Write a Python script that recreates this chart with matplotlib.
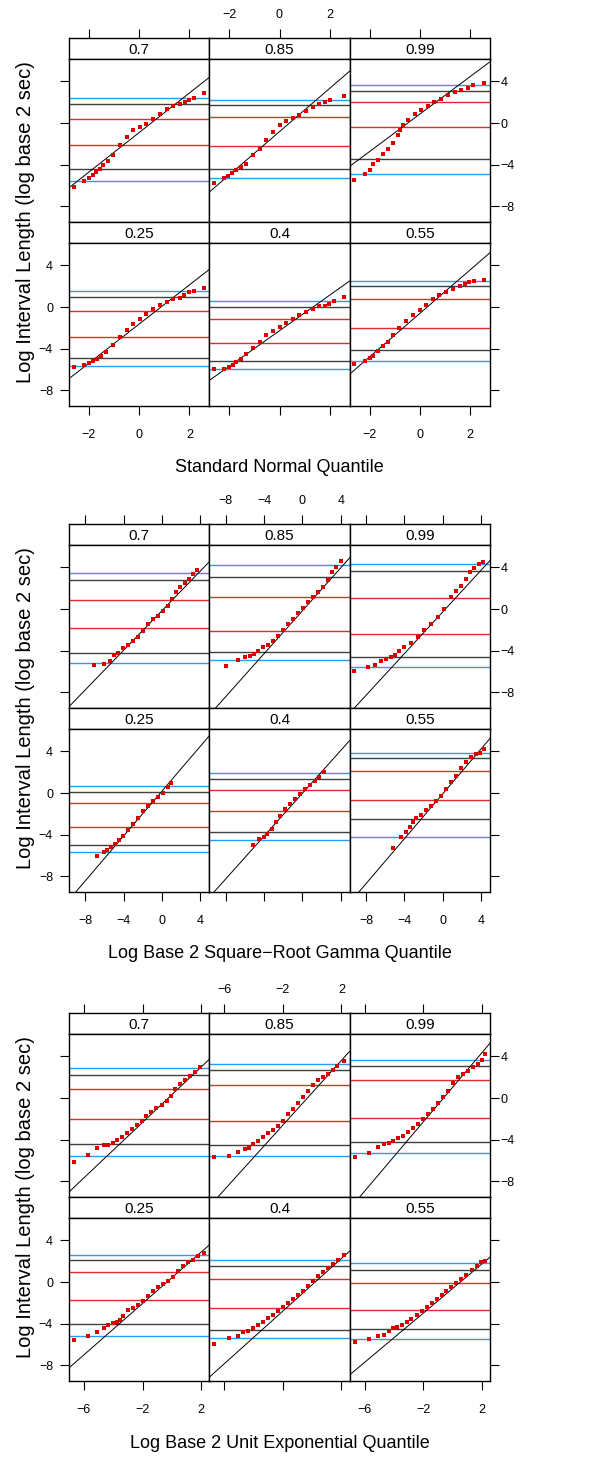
import matplotlib
matplotlib.use("Agg")
import matplotlib.pyplot as plt

plt.rcParams['font.family'] = ['Liberation Sans', 'DejaVu Sans']

# panel labels, top row first (lattice draws bottom row 0.25..0.55)
panel_names = ['0.7', '0.85', '0.99', '0.25', '0.4', '0.55']

x_titles = ['Standard Normal Quantile',
            'Log Base 2 Square\u2212Root Gamma Quantile',
            'Log Base 2 Unit Exponential Quantile']
y_title = 'Log Interval Length (log base 2 sec)'
y_ticks = [-8, -4, 0, 4]
norm_ticks = [-2, 0, 2]
gamma_ticks = [-8, -4, 0, 4]
expo_ticks = [-6, -2, 2]

# ---------------- standard normal quantile plot ----------------
norm_x_70 = [-2.60, -2.19, -1.99, -1.85, -1.70, -1.56, -1.43, -1.23, -1.03, -0.77, -0.50, -0.24,
             0.03, 0.29, 0.56, 0.82, 1.09, 1.35, 1.62, 1.81, 1.97, 2.17, 2.57]
norm_y_70 = [-6.11, -5.54, -5.25, -4.99, -4.74, -4.38, -4.06, -3.65, -3.04, -2.14, -1.34, -0.70,
             -0.38, -0.06, 0.35, 0.90, 1.34, 1.60, 1.86, 2.02, 2.18, 2.43, 2.91]
norm_h_70 = [2.37, 1.82, 0.42, -2.14, -4.45, -5.54]
norm_q_70 = [-0.91, 1.90]

norm_x_85 = [-2.61, -2.19, -2.05, -1.88, -1.72, -1.52, -1.32, -1.06, -0.79, -0.53, -0.26, 0.00,
             0.26, 0.53, 0.79, 1.06, 1.32, 1.59, 1.79, 1.99, 2.56]
norm_y_85 = [-5.73, -5.25, -5.06, -4.77, -4.54, -4.22, -3.90, -3.10, -2.46, -1.66, -0.86, -0.22,
             0.19, 0.51, 0.80, 1.12, 1.54, 1.82, 2.02, 2.18, 2.62]
norm_h_85 = [2.21, 1.76, 0.58, -2.24, -4.45, -5.25]
norm_q_85 = [-0.82, 2.08]

norm_x_99 = [-2.60, -2.20, -2.00, -1.87, -1.67, -1.47, -1.27, -1.07, -0.87, -0.77, -0.65, -0.48,
             -0.21, 0.05, 0.32, 0.58, 0.85, 1.11, 1.38, 1.64, 1.91, 2.13, 2.57]
norm_y_99 = [-5.44, -4.86, -4.48, -3.90, -3.52, -2.94, -2.46, -1.92, -1.18, -0.70, -0.16, 0.26,
             0.83, 1.22, 1.60, 2.02, 2.34, 2.66, 2.98, 3.20, 3.36, 3.62, 3.87]
norm_h_99 = [3.65, 3.10, 2.05, -0.42, -3.46, -4.86]
norm_q_99 = [0.86, 1.80]

norm_x_25 = [-2.60, -2.19, -1.99, -1.83, -1.67, -1.50, -1.30, -1.03, -0.77, -0.50, -0.24, 0.03,
             0.29, 0.56, 0.82, 1.09, 1.35, 1.62, 1.77, 1.97, 2.17, 2.57]
norm_y_25 = [-5.73, -5.57, -5.34, -5.15, -4.99, -4.67, -4.32, -3.68, -2.88, -2.24, -1.60, -1.12,
             -0.64, -0.16, 0.16, 0.48, 0.74, 0.90, 1.12, 1.41, 1.57, 1.86]
norm_h_25 = [1.57, 0.96, -0.35, -2.88, -4.93, -5.63]
norm_q_25 = [-1.63, 1.88]

norm_x_40 = [-2.61, -2.19, -2.01, -1.85, -1.72, -1.52, -1.32, -1.06, -0.79, -0.53, -0.26, 0.00,
             0.26, 0.53, 0.79, 1.06, 1.32, 1.59, 1.79, 1.96, 2.16, 2.56]
norm_y_40 = [-5.92, -5.92, -5.79, -5.60, -5.25, -4.96, -4.54, -3.94, -3.36, -2.72, -2.34, -1.92,
             -1.54, -1.18, -0.80, -0.48, -0.16, 0.06, 0.13, 0.29, 0.61, 0.99]
norm_h_40 = [0.61, 0.00, -1.15, -3.46, -5.22, -5.92]
norm_q_40 = [-2.27, 1.71]

norm_x_55 = [-2.60, -2.20, -2.00, -1.87, -1.67, -1.47, -1.27, -1.07, -0.81, -0.54, -0.28, -0.01,
             0.25, 0.52, 0.78, 1.05, 1.31, 1.58, 1.80, 1.97, 2.17, 2.57]
norm_y_55 = [-5.44, -5.15, -4.90, -4.67, -4.22, -3.78, -3.36, -2.72, -2.02, -1.38, -0.80, -0.32,
             0.16, 0.80, 1.18, 1.44, 1.76, 2.02, 2.24, 2.40, 2.53, 2.62]
norm_h_55 = [2.53, 2.02, 0.77, -2.05, -4.13, -5.22]
norm_q_55 = [-0.61, 2.09]

# ---------------- square-root gamma quantile plot ----------------
gam_x_70 = [-7.13, -6.09, -5.46, -5.01, -4.59, -4.07, -3.55, -3.03, -2.50, -1.98, -1.46, -0.94,
            -0.42, 0.10, 0.63, 1.08, 1.50, 1.91, 2.37, 2.82, 3.23, 3.69]
gam_y_70 = [-5.41, -5.25, -4.96, -4.45, -4.26, -3.74, -3.42, -3.04, -2.66, -2.08, -1.44, -0.96,
            -0.64, -0.16, 0.32, 0.96, 1.60, 2.08, 2.50, 2.88, 3.36, 3.78]
gam_h_70 = [3.42, 2.82, 0.86, -1.82, -4.22, -5.22]
gam_q_70 = [-0.14, 0.95]

gam_x_85 = [-7.93, -6.75, -6.02, -5.50, -5.08, -4.63, -4.10, -3.58, -3.06, -2.54, -2.02, -1.50,
            -0.97, -0.45, 0.07, 0.59, 1.11, 1.63, 2.16, 2.68, 3.13, 3.55, 4.03]
gam_y_85 = [-5.50, -4.86, -4.64, -4.48, -4.29, -4.06, -3.68, -3.42, -3.04, -2.56, -2.02, -1.44,
            -0.96, -0.42, 0.10, 0.64, 1.12, 1.60, 2.08, 2.78, 3.58, 4.06, 4.64]
gam_h_85 = [4.22, 3.10, 1.18, -2.11, -4.13, -4.90]
gam_q_85 = [-0.16, 1.03]

gam_x_99 = [-9.22, -7.83, -7.03, -6.43, -5.91, -5.39, -4.94, -4.52, -4.00, -3.30, -2.61, -1.91,
            -1.22, -0.52, 0.17, 0.87, 1.39, 1.91, 2.43, 2.85, 3.30, 3.83, 4.24]
gam_y_99 = [-5.92, -5.54, -5.34, -4.96, -4.80, -4.64, -4.42, -4.06, -3.68, -3.30, -2.72, -2.02,
            -1.44, -0.80, 0.00, 1.12, 1.76, 2.24, 2.88, 3.52, 3.94, 4.32, 4.54]
gam_h_99 = [4.32, 3.62, 1.09, -2.40, -4.64, -5.60]
gam_q_99 = [-0.27, 1.00]

gam_x_25 = [-6.78, -6.09, -5.74, -5.36, -4.94, -4.52, -4.07, -3.55, -3.03, -2.50, -1.98, -1.46,
            -0.94, -0.42, 0.10, 0.63, 0.97]
gam_y_25 = [-6.02, -5.63, -5.47, -5.22, -4.90, -4.48, -4.10, -3.55, -2.98, -2.43, -1.70, -1.22,
            -0.74, -0.35, -0.03, 0.54, 0.93]
gam_h_25 = [0.64, 0.13, -0.96, -3.26, -4.96, -5.63]
gam_q_25 = [0.20, 1.076]

gam_x_40 = [-5.15, -4.52, -4.03, -3.65, -3.23, -2.78, -2.37, -1.84, -1.32, -0.80, -0.28, 0.24,
            0.77, 1.29, 1.74, 2.23]
gam_y_40 = [-4.96, -4.45, -4.26, -3.94, -3.46, -2.82, -2.18, -1.54, -1.06, -0.58, -0.10, 0.38,
            0.80, 1.18, 1.57, 2.05]
gam_h_40 = [1.89, 1.34, 0.29, -1.73, -3.71, -4.48]
gam_q_40 = [-0.02, 1.027]

gam_x_55 = [-5.22, -4.35, -3.83, -3.41, -3.13, -2.78, -2.26, -1.74, -1.22, -0.70, -0.17, 0.35,
            0.87, 1.39, 1.91, 2.43, 2.96, 3.48, 3.90, 4.35]
gam_y_55 = [-5.31, -4.26, -3.71, -3.23, -2.75, -2.40, -2.08, -1.63, -1.22, -0.74, -0.26, 0.38,
            1.02, 1.66, 2.37, 2.94, 3.42, 3.74, 3.81, 4.22]
gam_h_55 = [3.84, 3.36, 2.08, -0.67, -2.50, -4.26]
gam_q_55 = [-0.07, 1.077]

# ---------------- unit exponential quantile plot ----------------
exp_x_70 = [-6.68, -5.70, -5.09, -4.64, -4.34, -4.05, -3.77, -3.43, -3.09, -2.75, -2.41, -2.07,
            -1.73, -1.39, -1.05, -0.70, -0.36, -0.09, 0.20, 0.55, 0.89, 1.23, 1.57, 1.91]
exp_y_70 = [-6.11, -5.50, -4.83, -4.54, -4.48, -4.29, -4.00, -3.71, -3.39, -2.98, -2.59, -2.18,
            -1.70, -1.38, -0.99, -0.64, -0.26, 0.22, 0.86, 1.34, 1.73, 2.14, 2.46, 2.94]
exp_h_70 = [2.91, 2.24, 0.86, -2.05, -4.38, -5.57]
exp_q_70 = [0.32, 1.33]

exp_x_85 = [-6.69, -5.67, -5.08, -4.60, -4.31, -4.03, -3.69, -3.35, -3.01, -2.67, -2.33, -1.99,
            -1.65, -1.31, -0.97, -0.63, -0.28, 0.06, 0.40, 0.74, 1.08, 1.42, 1.69, 2.15]
exp_y_85 = [-5.70, -5.60, -5.15, -4.90, -4.83, -4.42, -4.10, -3.71, -3.39, -3.07, -2.66, -2.18,
            -1.54, -1.06, -0.51, 0.06, 0.70, 1.28, 1.73, 1.98, 2.30, 2.69, 3.10, 3.58]
exp_h_85 = [3.30, 2.69, 1.25, -2.24, -4.54, -5.60]
exp_q_85 = [0.51, 1.555]

exp_x_99 = [-6.66, -5.68, -5.11, -4.66, -4.32, -4.05, -3.70, -3.36, -3.02, -2.68, -2.34, -2.00,
            -1.66, -1.32, -0.98, -0.64, -0.30, 0.05, 0.39, 0.73, 1.07, 1.41, 1.75, 1.98, 2.20]
exp_y_99 = [-5.63, -5.25, -4.74, -4.38, -4.32, -4.10, -3.87, -3.62, -3.23, -2.88, -2.50, -2.02,
            -1.54, -1.06, -0.51, 0.13, 0.70, 1.41, 1.98, 2.30, 2.62, 2.94, 3.26, 3.65, 4.22]
exp_h_99 = [3.68, 3.04, 1.73, -1.92, -4.19, -5.28]
exp_q_99 = [1.02, 1.66]

exp_x_25 = [-6.68, -5.70, -5.09, -4.64, -4.34, -4.05, -3.77, -3.55, -3.32, -2.98, -2.64, -2.30,
            -1.95, -1.61, -1.27, -0.93, -0.59, -0.25, 0.09, 0.43, 0.77, 1.11, 1.45, 1.80, 2.18]
exp_y_25 = [-5.60, -5.15, -4.83, -4.45, -4.16, -3.97, -3.84, -3.62, -3.30, -2.72, -2.50, -2.24,
            -1.86, -1.38, -0.90, -0.51, -0.19, 0.13, 0.45, 1.02, 1.50, 1.92, 2.14, 2.46, 2.78]
exp_h_25 = [2.59, 2.11, 0.96, -1.76, -4.03, -5.15]
exp_q_25 = [0.41, 1.233]

exp_x_40 = [-6.69, -5.67, -5.08, -4.72, -4.38, -4.03, -3.69, -3.35, -3.01, -2.67, -2.33, -1.99,
            -1.65, -1.31, -0.97, -0.63, -0.28, 0.06, 0.40, 0.74, 1.08, 1.42, 1.76, 2.17]
exp_y_40 = [-5.92, -5.41, -5.15, -4.83, -4.74, -4.42, -4.16, -3.84, -3.46, -3.14, -2.82, -2.43,
            -2.02, -1.63, -1.28, -0.90, -0.42, 0.06, 0.54, 0.96, 1.34, 1.73, 2.14, 2.62]
exp_h_40 = [2.11, 1.54, 0.26, -2.53, -4.58, -5.41]
exp_q_40 = [-0.26, 1.264]

exp_x_55 = [-6.66, -5.68, -5.11, -4.66, -4.32, -4.05, -3.77, -3.48, -3.14, -2.80, -2.45, -2.11,
            -1.77, -1.43, -1.09, -0.75, -0.41, -0.07, 0.27, 0.61, 0.95, 1.30, 1.64, 1.93, 2.20]
exp_y_55 = [-5.79, -5.47, -5.22, -5.06, -4.74, -4.42, -4.32, -4.10, -3.84, -3.52, -3.20, -2.82,
            -2.43, -2.02, -1.60, -1.22, -0.83, -0.51, -0.10, 0.32, 0.70, 1.18, 1.50, 1.89, 1.98]
exp_h_55 = [1.82, 1.15, -0.10, -2.72, -4.51, -5.47]
exp_q_55 = [-0.63, 1.18]

norm_data = [(norm_x_70, norm_y_70, norm_h_70, norm_q_70), (norm_x_85, norm_y_85, norm_h_85, norm_q_85),
             (norm_x_99, norm_y_99, norm_h_99, norm_q_99), (norm_x_25, norm_y_25, norm_h_25, norm_q_25),
             (norm_x_40, norm_y_40, norm_h_40, norm_q_40), (norm_x_55, norm_y_55, norm_h_55, norm_q_55)]
gam_data = [(gam_x_70, gam_y_70, gam_h_70, gam_q_70), (gam_x_85, gam_y_85, gam_h_85, gam_q_85),
            (gam_x_99, gam_y_99, gam_h_99, gam_q_99), (gam_x_25, gam_y_25, gam_h_25, gam_q_25),
            (gam_x_40, gam_y_40, gam_h_40, gam_q_40), (gam_x_55, gam_y_55, gam_h_55, gam_q_55)]
exp_data = [(exp_x_70, exp_y_70, exp_h_70, exp_q_70), (exp_x_85, exp_y_85, exp_h_85, exp_q_85),
            (exp_x_99, exp_y_99, exp_h_99, exp_q_99), (exp_x_25, exp_y_25, exp_h_25, exp_q_25),
            (exp_x_40, exp_y_40, exp_h_40, exp_q_40), (exp_x_55, exp_y_55, exp_h_55, exp_q_55)]

# colours of the six reference lines, top to bottom
hline_cols = ['#2b9cf2', '#404040', '#e32b2b', '#e32b2b', '#404040', '#2b9cf2']

W, H = 608, 1458
fig = plt.figure(figsize=(W / 100, H / 100), dpi=100)


def box(x0, y0, w, h):
    # pixel box (from top-left) -> figure fraction
    return [x0 / W, 1 - (y0 + h) / H, w / W, h / H]


left = 69
col_w = 421 / 3
strip_h = 21
panel_h = 163
ylim = (-9.5, 6.15)


def draw_block(top, data, xlim, xticks, xlabel):
    for i, name in enumerate(panel_names):
        r, c = divmod(i, 3)
        x0 = left + c * col_w
        y0 = top + r * (strip_h + panel_h)
        xs, ys, hs, q = data[i]

        sax = fig.add_axes(box(x0, y0, col_w, strip_h))
        sax.set_xlim(xlim)
        sax.set_yticks([])
        sax.text(0.5, 0.45, name, transform=sax.transAxes, ha='center', va='center', fontsize=11)
        if r == 0:
            sax.set_xticks(xticks)
            sax.tick_params(axis='x', top=True, bottom=False, labeltop=(c == 1), labelbottom=False,
                            direction='out', length=6.5, width=0.8, pad=6, labelsize=9)
        else:
            sax.set_xticks([])
        for sp in sax.spines.values():
            sp.set_linewidth(1.0)

        ax = fig.add_axes(box(x0, y0 + strip_h, col_w, panel_h))
        ax.set_xlim(xlim)
        ax.set_ylim(ylim)
        for v, col in zip(hs, hline_cols):
            ax.axhline(v, color=col, lw=1.0, zorder=1)
        ax.axline((0, q[0]), slope=q[1], color='black', lw=0.7, zorder=2)
        ax.plot(xs, ys, 's', ms=2.2, mew=0, color='#dd0000', zorder=3)

        ax.set_yticks(y_ticks)
        ax.tick_params(axis='y', left=(c == 0), right=(c == 2),
                       labelleft=(c == 0 and r == 1), labelright=(c == 2 and r == 0),
                       direction='out', length=6.5, width=0.8, labelsize=9,
                       pad=(1 if c == 2 else 5))
        if r == 1:
            ax.set_xticks(xticks)
            ax.tick_params(axis='x', bottom=True, labelbottom=(c != 1), direction='out',
                           length=6.5, width=0.8, pad=10, labelsize=9)
        else:
            ax.set_xticks([])
        for sp in ax.spines.values():
            sp.set_linewidth(1.0)

    bottom = top + 2 * (strip_h + panel_h)
    fig.text((left + 210.5) / W, 1 - (bottom + 62) / H, xlabel, ha='center', va='center', fontsize=13)
    fig.text(26 / W, 1 - (top + bottom) / 2 / H, y_title, rotation=90, ha='center', va='center',
             fontsize=14.5)


draw_block(38, norm_data, (-2.79, 2.79), norm_ticks, x_titles[0])
draw_block(524, gam_data, (-9.72, 4.93), gamma_ticks, x_titles[1])
draw_block(1013, exp_data, (-7.02, 2.56), expo_ticks, x_titles[2])

fig.savefig('out.png', dpi=100)
